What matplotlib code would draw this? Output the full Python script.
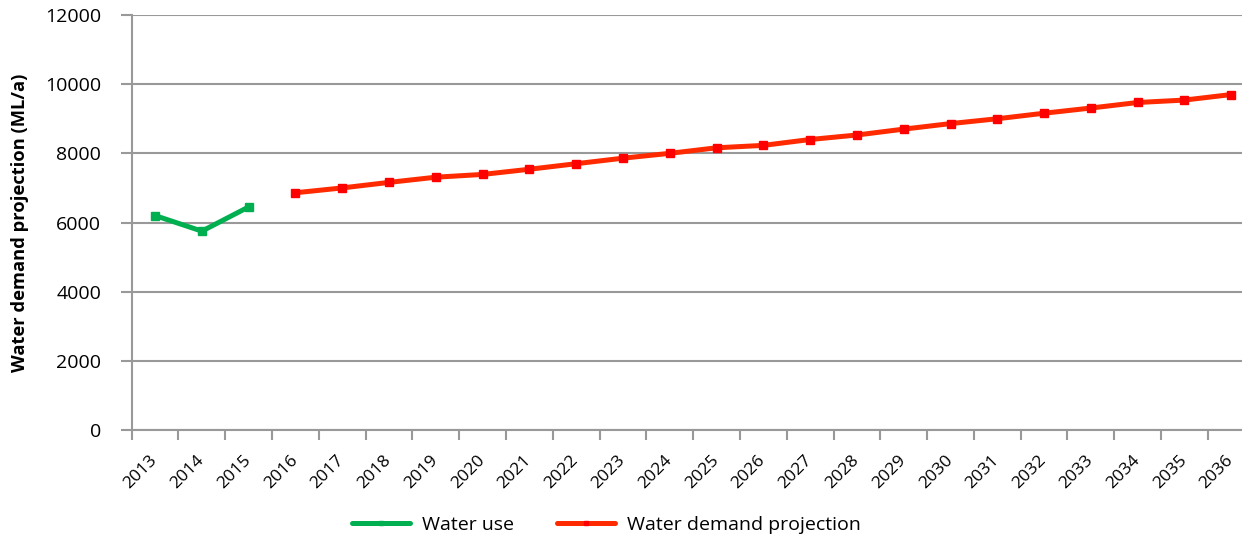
import matplotlib.pyplot as plt
from matplotlib.transforms import ScaledTranslation

years = [str(y) for y in range(2013, 2037)]

use_years = ["2013", "2014", "2015"]
water_use = [6200, 5750, 6450]

proj_years = [str(y) for y in range(2016, 2037)]
projection = [6860, 7000, 7160, 7310, 7390, 7540, 7700, 7860, 8000, 8160,
              8230, 8400, 8530, 8700, 8860, 9000, 9160, 9310, 9470, 9540, 9700]

plt.rcParams['font.family'] = ['Open Sans', 'DejaVu Sans']

fig = plt.figure(figsize=(12.42, 5.37), dpi=100)
ax = fig.add_axes([131.7/1242, 1-430/537, 1-131.7/1242, 415/537])

idx = {y: i for i, y in enumerate(years)}
ax.plot([idx[y] for y in use_years], water_use, color='#00b050', lw=3.6,
        marker='s', ms=5.5, mfc='#00b050', mec='#00b050', label='Water use',
        solid_capstyle='round')
ax.plot([idx[y] for y in proj_years], projection, color='#ff2a00', lw=3.6,
        marker='s', ms=5.5, mfc='#ff0000', mec='#ff0000',
        label='Water demand projection', solid_capstyle='round')

ax.set_xlim(-0.5, 23.23)
ax.set_ylim(0, 12000)
ax.set_yticks(range(0, 12001, 2000))
ax.grid(axis='y', color='#999999', lw=1.5)
ax.set_axisbelow(True)

# category axis: ticks on boundaries, labels on centres
ax.set_xticks([i - 0.5 for i in range(len(years))])
ax.set_xticklabels([])
ax.set_xticks(range(len(years)), minor=True)
ax.set_xticklabels(years, minor=True, rotation=45, ha='right', va='top',
                   rotation_mode='anchor', fontsize=12.5)
ax.tick_params(axis='x', which='minor', length=0, pad=16)
for lab in ax.get_xticklabels(minor=True):
    lab.set_transform(lab.get_transform() + ScaledTranslation(-6/100, 0, fig.dpi_scale_trans))
ax.tick_params(axis='x', which='major', length=7, width=1.5, color='#999999')
ax.tick_params(axis='y', length=8, width=1.5, color='#999999', labelsize=14, pad=14)

for s in ['top', 'right']:
    ax.spines[s].set_visible(False)
for s in ['left', 'bottom']:
    ax.spines[s].set_color('#999999')
    ax.spines[s].set_linewidth(1.5)

ax.set_ylabel('Water demand projection (ML/a)', fontsize=13.2, fontweight='bold')
ax.yaxis.set_label_coords(-(131.7 - 29) / (1242 - 131.7), 0.5)

fig.legend(loc='center', bbox_to_anchor=(0.488, 1-525/537), ncol=2, frameon=False,
           fontsize=14, handlelength=3.0, handletextpad=0.6, columnspacing=2.2,
           markerscale=0.6)

fig.savefig('out.png', dpi=100)
